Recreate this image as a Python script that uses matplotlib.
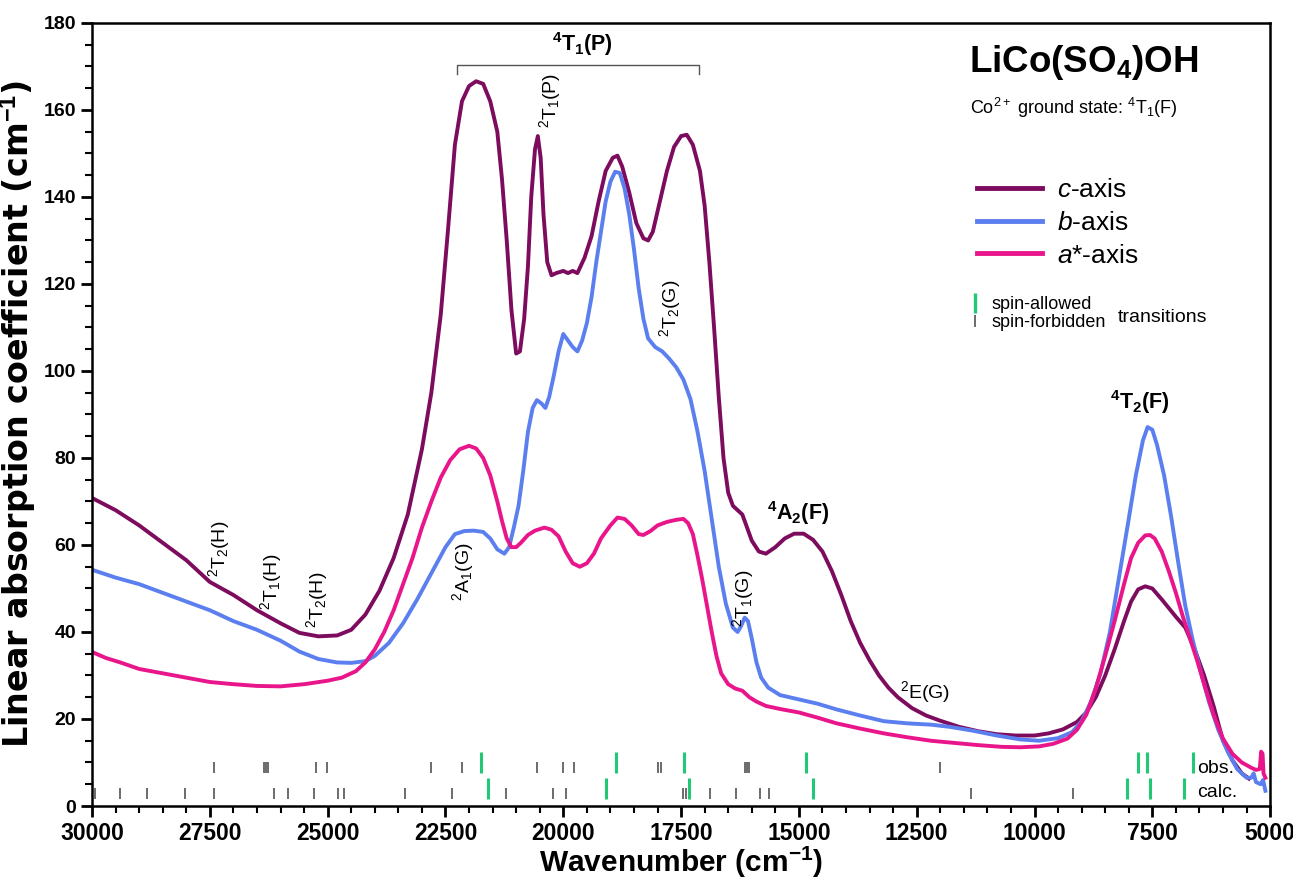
import numpy as np
import matplotlib.pyplot as plt
from matplotlib.lines import Line2D

# fonts: Arial-like, narrow variant for the small state labels
plt.rcParams['font.family'] = ['Liberation Sans', 'DejaVu Sans']
plt.rcParams['mathtext.fontset'] = 'custom'
plt.rcParams['mathtext.rm'] = 'Liberation Sans'
plt.rcParams['mathtext.it'] = 'Liberation Sans:italic'
plt.rcParams['mathtext.bf'] = 'Liberation Sans:bold'
NARROW = ['Liberation Sans Narrow', 'Liberation Sans', 'DejaVu Sans']

# ---- spectra (wavenumber cm-1, absorption cm-1) ----
c_wn = [30000, 29500, 29000, 28500, 28000, 27500, 27000, 26500, 26000, 25600,
        25200, 24800, 24500, 24200, 23900, 23600, 23300, 23000, 22800, 22600,
        22450, 22300, 22150, 22000, 21850, 21700, 21550, 21400, 21300, 21200,
        21100, 21000, 20920, 20830, 20750, 20680, 20600, 20540, 20480, 20420,
        20340, 20250, 20150, 20000, 19900, 19800, 19700, 19550, 19400, 19250,
        19100, 18950, 18850, 18750, 18600, 18450, 18300, 18200, 18100, 17950,
        17800, 17650, 17500, 17380, 17250, 17100, 17000, 16900, 16800, 16700,
        16600, 16500, 16400, 16300, 16200, 16100, 16000, 15850, 15700, 15500,
        15300, 15100, 14900, 14700, 14500, 14300, 14100, 13900, 13700, 13500,
        13300, 13100, 12900, 12600, 12300, 12000, 11600, 11200, 10800, 10400,
        10000, 9700, 9400, 9100, 8900, 8700, 8500, 8300, 8100, 7950,
        7800, 7650, 7500, 7300, 7000, 6800, 6600, 6400, 6200, 6000,
        5800, 5600, 5450]
c_abs = [70.8, 68.0, 64.5, 60.5, 56.5, 51.5, 48.5, 45.0, 42.0, 39.8,
         39.0, 39.2, 40.5, 44.0, 49.5, 57.0, 67.0, 82.0, 95.0, 113.0,
         132.0, 152.0, 162.0, 165.5, 166.6, 166.0, 162.0, 155.0, 144.0, 130.0,
         114.0, 104.0, 104.5, 112.0, 124.0, 140.0, 151.0, 154.0, 149.0, 136.0,
         125.0, 122.0, 122.5, 123.0, 122.5, 123.0, 122.5, 126.0, 131.0, 139.0,
         146.0, 149.0, 149.5, 147.0, 141.0, 134.0, 130.5, 130.0, 132.0, 139.0,
         146.0, 151.5, 154.0, 154.3, 152.0, 146.0, 138.0, 125.0, 110.0, 94.0,
         80.0, 72.0, 69.0, 68.0, 67.0, 64.0, 61.0, 58.5, 58.0, 59.5,
         61.5, 62.6, 62.6, 61.2, 58.5, 54.0, 48.5, 42.5, 37.5, 33.5,
         30.0, 27.2, 25.0, 22.5, 20.8, 19.6, 18.2, 17.2, 16.5, 16.2,
         16.2, 16.7, 17.6, 19.3, 21.5, 25.0, 30.0, 36.0, 42.5, 47.0,
         49.8, 50.5, 50.0, 47.5, 43.5, 41.0, 36.0, 30.0, 23.0, 15.0,
         10.5, 7.5, 6.3]

b_wn = [30000, 29500, 29000, 28500, 28000, 27500, 27000, 26500, 26000, 25600,
        25200, 24800, 24500, 24200, 24000, 23700, 23400, 23100, 22800, 22500,
        22300, 22100, 21900, 21700, 21550, 21400, 21250, 21150, 21050, 20950,
        20850, 20750, 20650, 20560, 20460, 20380, 20300, 20200, 20100, 20000,
        19900, 19800, 19700, 19600, 19500, 19400, 19300, 19200, 19100, 19000,
        18900, 18800, 18700, 18600, 18500, 18400, 18300, 18200, 18050, 17900,
        17750, 17600, 17450, 17300, 17150, 17000, 16850, 16700, 16550, 16400,
        16300, 16230, 16150, 16080, 16000, 15900, 15800, 15650, 15400, 15000,
        14600, 14200, 13700, 13200, 12700, 12200, 11800, 11300, 10800, 10300,
        9900, 9500, 9200, 9000, 8800, 8600, 8400, 8200, 8000, 7850,
        7700, 7600, 7500, 7400, 7250, 7100, 6950, 6800, 6650, 6500,
        6300, 6100, 5900, 5700, 5500, 5400, 5350, 5300, 5200, 5150, 5100]
b_abs = [54.3, 52.5, 51.0, 49.0, 47.0, 45.0, 42.5, 40.5, 38.0, 35.5,
         33.8, 33.0, 32.9, 33.3, 34.5, 37.5, 42.0, 47.5, 53.5, 59.5,
         62.5, 63.2, 63.3, 63.0, 61.5, 59.0, 58.0, 59.5, 64.0, 69.0,
         77.0, 86.0, 91.5, 93.3, 92.5, 91.5, 94.0, 99.0, 104.5, 108.5,
         107.0, 105.5, 104.5, 107.0, 111.0, 117.0, 125.0, 132.0, 139.0, 143.5,
         145.8, 145.5, 142.0, 136.0, 128.0, 119.0, 112.0, 107.5, 105.5, 104.5,
         102.8, 100.8, 98.0, 93.5, 86.0, 77.0, 66.0, 55.0, 46.5, 41.0,
         40.0, 41.3, 43.3, 42.5, 38.5, 33.0, 29.5, 27.2, 25.5, 24.5,
         23.5, 22.2, 20.8, 19.5, 19.0, 18.7, 18.2, 17.3, 16.2, 15.3,
         15.0, 15.6, 17.0, 19.5, 24.0, 30.5, 40.0, 53.0, 66.0, 76.0,
         84.0, 87.1, 86.5, 83.0, 76.0, 66.5, 56.0, 46.0, 38.5, 32.0,
         24.0, 17.5, 12.5, 8.5, 6.5, 6.5, 7.5, 5.5, 5.0, 6.0, 3.5]

a_wn = [30000, 29700, 29400, 29000, 28500, 28000, 27500, 27000, 26500, 26000,
        25500, 25000, 24700, 24400, 24200, 24000, 23800, 23600, 23400, 23200,
        23000, 22800, 22600, 22400, 22200, 22000, 21850, 21700, 21550, 21400,
        21300, 21200, 21100, 21000, 20900, 20750, 20600, 20400, 20250, 20100,
        19950, 19800, 19650, 19500, 19350, 19200, 19000, 18850, 18700, 18550,
        18400, 18300, 18150, 18000, 17800, 17600, 17450, 17350, 17250, 17150,
        17050, 16950, 16850, 16750, 16650, 16500, 16350, 16200, 16050, 15900,
        15700, 15400, 15000, 14600, 14200, 13700, 13200, 12700, 12200, 11700,
        11200, 10700, 10300, 9900, 9600, 9300, 9100, 8900, 8700, 8500,
        8300, 8100, 7950, 7800, 7650, 7550, 7450, 7300, 7150, 7000,
        6850, 6700, 6550, 6400, 6200, 6000, 5800, 5600, 5400, 5300,
        5220, 5190, 5160, 5140, 5100]
a_abs = [35.4, 34.0, 33.0, 31.5, 30.5, 29.5, 28.5, 28.0, 27.6, 27.5,
         28.0, 28.8, 29.5, 31.0, 33.0, 36.0, 40.0, 45.0, 51.0, 57.0,
         64.0, 70.0, 75.5, 79.5, 82.0, 82.8, 82.2, 80.0, 76.0, 70.0,
         65.5, 61.5, 59.5, 59.5, 60.5, 62.3, 63.3, 64.0, 63.5, 62.0,
         58.5, 55.8, 55.0, 55.8, 58.0, 61.5, 64.5, 66.3, 66.0, 64.5,
         62.5, 62.3, 63.2, 64.5, 65.3, 65.8, 66.0, 65.0, 62.5, 57.5,
         52.0, 46.0, 40.0, 34.5, 30.5, 28.0, 27.0, 26.5, 25.0, 24.0,
         23.0, 22.3, 21.5, 20.3, 19.0, 17.8, 16.7, 15.8, 15.0, 14.5,
         14.0, 13.6, 13.5, 13.7, 14.3, 15.5, 17.5, 21.0, 27.0, 34.5,
         42.5, 51.0, 57.0, 60.5, 62.2, 62.3, 61.5, 58.5, 54.0, 49.0,
         43.5, 38.5, 33.5, 28.0, 21.0, 15.5, 12.0, 10.0, 8.8, 8.3,
         8.5, 12.5, 12.0, 7.5, 6.5]

# ---- transition energies (cm-1) ----
obs_allowed = [21746, 18882, 17436, 14850, 7806, 7615, 6639]
obs_forbidden = [27411, 26350, 26308, 26266, 25247, 25014, 22807, 22149,
                 20558, 20006, 19773, 17991, 17927, 16145, 16103, 16061, 12007]
calc_allowed = [21598, 19094, 17332, 14702, 8039, 7551, 6830]
calc_forbidden = [29936, 29406, 28833, 28027, 27411, 26138, 25841, 25290,
                  24780, 24653, 23359, 22362, 21216, 20218, 19943, 17460,
                  17396, 16887, 16336, 15826, 15635, 11349, 9185]

# state labels: (text, wavenumber, height, rotation, bold)
state_labels = [
    (r'$^2$T$_2$(H)', 27300, 59.0, 90, False),
    (r'$^2$T$_1$(H)', 26200, 51.5, 90, False),
    (r'$^2$T$_2$(H)', 25225, 47.4, 90, False),
    (r'$^2$A$_1$(G)', 22130, 53.8, 90, False),
    (r'$^2$T$_1$(P)', 20280, 162.3, 90, False),
    (r'$^2$T$_2$(G)', 17736, 114.5, 90, False),
    (r'$^2$T$_1$(G)', 16187, 47.8, 90, False),
    (r'$^2$E(G)', 12325, 26.2, 0, False),
    (r'$^{\mathbf{4}}$A$_{\mathbf{2}}$(F)', 15020, 67.4, 0, True),
    (r'$^{\mathbf{4}}$T$_{\mathbf{2}}$(F)', 7763, 92.9, 0, True),
    (r'$^{\mathbf{4}}$T$_{\mathbf{1}}$(P)', 19600, 175.2, 0, True),
]
bracket_left, bracket_right = 22255, 17121

c_col = '#7D0B5E'
b_col = '#5B7FEF'
a_col = '#E8168A'
green = '#22C876'
gray = '#444444'

fig = plt.figure(figsize=(12.93, 8.83), dpi=100)
ax = fig.add_axes([0.0712, 0.0872, 0.9111, 0.8868])

ax.plot(c_wn, c_abs, color=c_col, lw=2.8, solid_joinstyle='round')
ax.plot(b_wn, b_abs, color=b_col, lw=2.8, solid_joinstyle='round')
ax.plot(a_wn, a_abs, color=a_col, lw=2.8, solid_joinstyle='round')

# obs. / calc. stick rows
ax.vlines(obs_forbidden, 7.6, 10.2, color=gray, lw=1.1)
ax.vlines(obs_allowed, 7.6, 12.5, color=green, lw=2.2)
ax.vlines(calc_forbidden, 1.5, 4.2, color=gray, lw=1.1)
ax.vlines(calc_allowed, 1.5, 6.5, color=green, lw=2.2)
ax.text(6554, 8.7, 'obs.', family=NARROW, fontsize=14, va='center', ha='left')
ax.text(6554, 3.2, 'calc.', family=NARROW, fontsize=14, va='center', ha='left')

for txt, x, y, rot, bold in state_labels:
    if bold:
        ax.text(x, y, txt, fontsize=15.5, fontweight='bold', rotation=rot,
                ha='center', va='center')
    else:
        ax.text(x, y, txt, family=NARROW, fontsize=14, rotation=rot,
                ha='center', va='center')

# bracket over the 4T1(P) band
ax.plot([bracket_left, bracket_left, bracket_right, bracket_right],
        [168.3, 170.3, 170.3, 168.3], color='#555555', lw=1.0)

ax.set_xlim(30000, 5000)
ax.set_ylim(0, 180)
ax.set_xticks(np.arange(30000, 4999, -2500))
ax.set_xticks(np.arange(30000, 4999, -500), minor=True)
ax.set_yticks(np.arange(0, 181, 20))
ax.set_yticks(np.arange(0, 181, 5), minor=True)
ax.tick_params(which='major', direction='out', length=8, width=2)
ax.tick_params(which='minor', direction='out', length=5, width=1.5)
for lab in ax.get_xticklabels():
    lab.set_family(NARROW)
    lab.set_fontweight('bold')
    lab.set_fontsize(16.5)
for lab in ax.get_yticklabels():
    lab.set_fontweight('bold')
    lab.set_fontsize(14)
for sp in ax.spines.values():
    sp.set_linewidth(1.8)

ax.set_xlabel(r'Wavenumber (cm$^{\mathbf{-1}}$)', fontsize=21.5, fontweight='bold', labelpad=0)
ax.set_ylabel(r'Linear absorption coefficient (cm$^{\mathbf{-1}}$)', fontsize=24,
              family=['DejaVu Sans'], fontweight='bold', labelpad=3)

# title block
ax.text(0.744, 0.950, r'LiCo(SO$_{\mathbf{4}}$)OH', transform=ax.transAxes,
        fontsize=26.5, fontweight='bold', va='center', ha='left')
ax.text(0.745, 0.891, r'Co$^{2+}$ ground state: $^4$T$_1$(F)', transform=ax.transAxes,
        family=NARROW, fontsize=13, va='center', ha='left')

# legends
handles = [Line2D([], [], color=c_col, lw=3.5),
           Line2D([], [], color=b_col, lw=3.5),
           Line2D([], [], color=a_col, lw=3.5)]
leg1 = ax.legend(handles, [r'$\mathit{c}$-axis', r'$\mathit{b}$-axis', r'$\mathit{a}$*-axis'],
                 loc='upper left', bbox_to_anchor=(0.731, 0.832), frameon=False,
                 fontsize=19, handlelength=2.45, handletextpad=0.57, labelspacing=0.33)
ax.add_artist(leg1)

spin_handles = [Line2D([], [], color=green, lw=0, marker='|', markersize=14, markeredgewidth=2.4),
                Line2D([], [], color=gray, lw=0, marker='|', markersize=8, markeredgewidth=1.1)]
ax.legend(spin_handles, ['spin-allowed', 'spin-forbidden'], loc='upper left',
          bbox_to_anchor=(0.731, 0.672), frameon=False, prop={'family': NARROW, 'size': 13},
          handlelength=0.6, handletextpad=0.6, labelspacing=0.05)
ax.text(0.871, 0.624, 'transitions', transform=ax.transAxes, family=NARROW,
        fontsize=14, va='center', ha='left')

fig.savefig('out.png', dpi=100)
